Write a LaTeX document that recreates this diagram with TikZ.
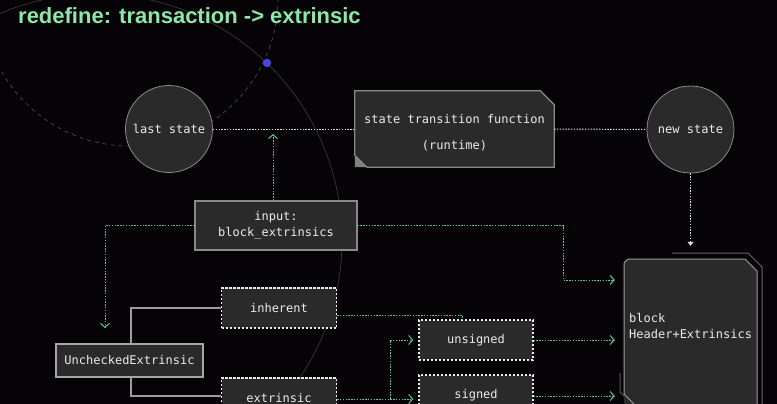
\documentclass[tikz,border=0pt]{standalone}
\usepackage{fontspec}
\setmonofont{DejaVu Sans Mono}
\setsansfont{Liberation Sans}
\usetikzlibrary{arrows.meta,calc}
\definecolor{bgc}{HTML}{060306}
\definecolor{boxfill}{HTML}{2A2A2A}
\definecolor{boxline}{HTML}{8A8A8A}
\definecolor{titlegreen}{HTML}{8CE8A8}
\definecolor{linkgreen}{HTML}{5CC49C}
\definecolor{txt}{HTML}{ECECEC}
\definecolor{orbit}{HTML}{4A4A4A}
\definecolor{orbitsolid}{HTML}{343434}
\definecolor{dotblue}{HTML}{4A46E0}
\tikzset{
  lbl/.style={font=\ttfamily\fontsize{12}{16}\selectfont, text=txt},
  statecirc/.style={circle, minimum size=87pt, inner sep=0pt, fill=boxfill, draw=boxline, line width=0.8pt, lbl},
  solidbox/.style={rectangle, fill=boxfill, draw=boxline, line width=1.2pt, inner sep=0pt, lbl, align=center},
  dashbox/.style={rectangle, fill=boxfill, draw=white!92!black, line width=1.3pt, dash pattern=on 2.2pt off 1.8pt, inner sep=0pt, lbl, minimum width=115pt, minimum height=40pt},
  ghost/.style={rectangle, inner sep=0pt, draw=none},
  gline/.style={draw=linkgreen, line width=1pt, dash pattern=on 1.4pt off 1.4pt},
  wline/.style={draw=white!88!black, line width=1pt, dash pattern=on 1.4pt off 1.4pt},
  chev/.style={-{Straight Barb[length=4pt,width=9pt,line width=1pt]}},
  greyconn/.style={draw=white!62!black, line width=1.5pt},
}
\begin{document}
\begin{tikzpicture}[x=1pt,y=-1pt]
\useasboundingbox (0,0) rectangle (777,404);
\clip (0,0) rectangle (777,404);
\fill[bgc] (0,0) rectangle (777,404);
% background orbits
\draw[orbitsolid, line width=0.8pt] (96,240) circle (246);
\draw[orbit, line width=0.7pt, dash pattern=on 4pt off 4pt] (130,-2) circle (148);
\fill[dotblue] (267,63) circle (4.2);
% title
\node[anchor=base west, inner sep=0pt, font=\sffamily\bfseries\fontsize{22}{24}\selectfont, text=titlegreen] (title) at (18,24) {redefine: transaction -> extrinsic};
% states
\node[statecirc] (last) at (169,129) {last state};
\node[statecirc] (new) at (690.5,129.5) {new state};
% state transition function
\node[ghost, minimum width=199pt, minimum height=76pt] (stf) at (454.5,129) {};
\fill[boxfill] (stf.north west) -- ($(stf.north east)+(-14,0)$) -- ($(stf.north east)+(0,14)$) -- (stf.south east) -- ($(stf.south west)+(12,0)$) -- ($(stf.south west)+(0,-12)$) -- cycle;
\fill[white!50!black] ($(stf.south west)+(0,-12)$) -- ($(stf.south west)+(12,0)$) -- (stf.south west) -- cycle;
\draw[boxline, line width=1.2pt] (stf.north west) -- ($(stf.north east)+(-14,0)$) -- ($(stf.north east)+(0,14)$) -- (stf.south east) -- ($(stf.south west)+(12,0)$) -- ($(stf.south west)+(0,-12)$) -- cycle;
\node[lbl, align=center] (stflabel) at (454.5,133) {state transition function\\[10pt](runtime)};
% input
\node[solidbox, minimum width=162pt, minimum height=49pt] (input) at (276,225.5) {input:\\block\_extrinsics};
% unchecked extrinsic
\node[solidbox, minimum width=147pt, minimum height=33pt, line width=1.1pt, draw=white!65!black] (uc) at (129.5,360.5) {UncheckedExtrinsic};
% inherent / extrinsic
\node[dashbox] (inh) at (279,308) {inherent};
\node[dashbox] (ext) at (279,398) {extrinsic};
% unsigned / signed
\node[dashbox, minimum width=114pt] (uns) at (476,340) {unsigned};
\node[dashbox, minimum width=114pt] (sig) at (476,395) {signed};
% block
\node[ghost, minimum width=133pt, minimum height=171pt] (block) at (690.5,344.5) {};
\draw[white!40!black, line width=1pt] (672,253) -- (748,253) -- (762,267) -- (762,404);
\draw[white!35!black, line width=1pt] (620,373) -- (620,392) -- (632,404);
\fill[boxfill] (624,263) -- (628,259) -- (745,259) -- (757,271) -- (757,430) -- (634,430) -- (624,420) -- cycle;
\draw[white!62!black, line width=1pt] (624,263) -- (628,259) -- (745,259) -- (757,271) -- (757,430) (624,263) -- (624,394) -- (634,404);
\node[lbl, anchor=west, align=left, inner sep=0pt] (blocklabel) at (629,326) {block\\Header+Extrinsics};
% coordinates for free ends and bends
\coordinate (stfin) at (273,134);
\coordinate (ucin) at (105,328);
\coordinate (bend) at (563,280);
\coordinate (splitx) at (390,0);
% white dotted connectors
\draw[wline] (last.east) -- (stf.west);
\draw[wline] (stf.east) -- (new.west);
\draw[wline, -{Triangle[length=4pt,width=6pt]}, shorten >=13pt] (new.south) -- (new.south |- block.north);
% green connectors
\draw[gline, chev] (input.north -| stfin) -- (stfin);
\draw[gline, chev] (input.west) -| (ucin);
\draw[gline, chev, shorten >=9pt] (input.east) -| (bend) -- (bend -| block.west);
\draw[gline] ([yshift=-7pt]inh.east) -| ([xshift=-14pt]uns.north);
\draw[gline, chev, shorten >=5pt] ([yshift=-1pt]ext.east) -| (splitx |- uns.west) -- (uns.west);
\draw[gline, chev, shorten >=5pt] ([yshift=-1pt]ext.east) -- ([yshift=-1pt]ext.east -| sig.west);
\draw[gline, chev, shorten >=9pt] (uns.east) -- (uns.east -| block.west);
\draw[gline, chev, shorten >=9pt] ([yshift=-1pt]sig.east) -- ([yshift=-1pt]sig.east -| block.west);
% grey solid connectors
\draw[greyconn] ([xshift=1.5pt]uc.north) |- (inh.west);
\draw[greyconn] ([xshift=1.5pt]uc.south) |- ([yshift=2pt]ext.west);
\end{tikzpicture}
\end{document}
